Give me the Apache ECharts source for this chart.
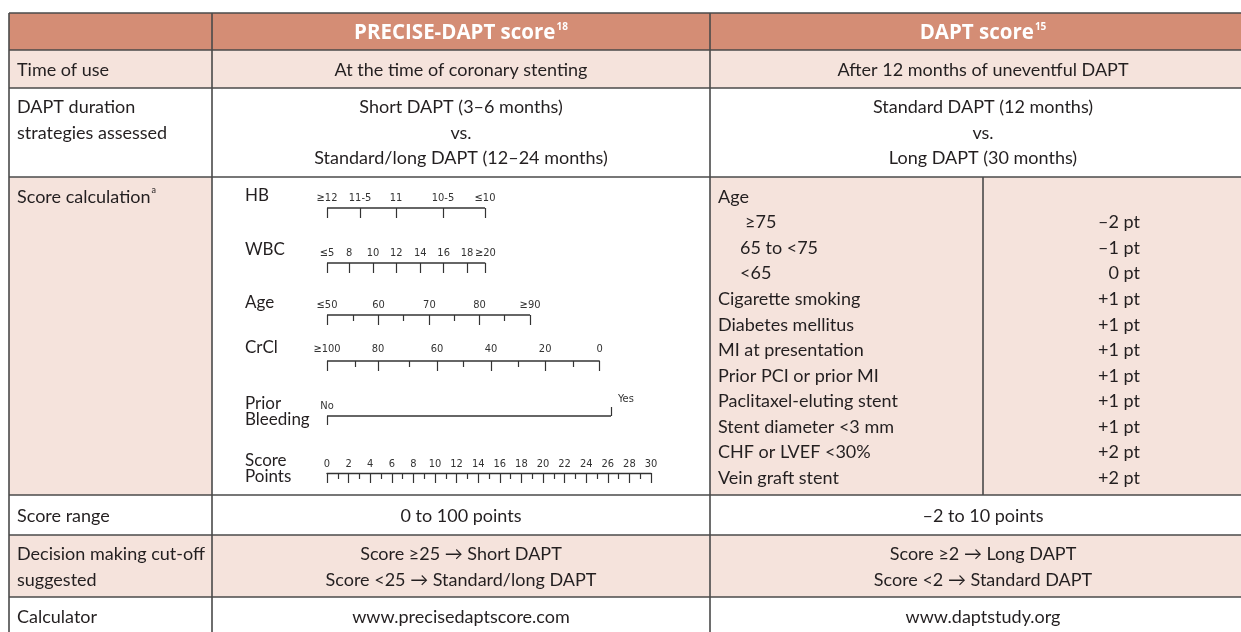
<!DOCTYPE html>
<html>
<head>
<meta charset="utf-8">
<script src="https://cdn.jsdelivr.net/npm/echarts@6/dist/echarts.min.js"></script>
<style>
html, body { margin: 0; background: #fff; }
#main { width: 1241px; height: 632px; }
</style>
</head>
<body>
<div id="main"></div>
<script>
let chart = echarts.init(document.getElementById('main'));

// 表头 / 行名
const headTitles = ['PRECISE-DAPT score', 'DAPT score'];
const headRefs = ['18', '15'];
const rowNames = ['Time of use', 'DAPT duration\nstrategies assessed', 'Score calculation', 'Score range', 'Decision making cut-off\nsuggested', 'Calculator'];
const preciseText = ['At the time of coronary stenting', 'Short DAPT (3–6 months)\nvs.\nStandard/long DAPT (12–24 months)', '', '0 to 100 points', 'Score ≥25 → Short DAPT\nScore <25 → Standard/long DAPT', 'www.precisedaptscore.com'];
const daptText = ['After 12 months of uneventful DAPT', 'Standard DAPT (12 months)\nvs.\nLong DAPT (30 months)', '', '–2 to 10 points', 'Score ≥2 → Long DAPT\nScore <2 → Standard DAPT', 'www.daptstudy.org'];

// DAPT score 计分项
const daptFactors = ['Age', '≥75', '65 to <75', '<65', 'Cigarette smoking', 'Diabetes mellitus', 'MI at presentation', 'Prior PCI or prior MI', 'Paclitaxel-eluting stent', 'Stent diameter <3 mm', 'CHF or LVEF <30%', 'Vein graft stent'];
const daptPoints = ['', '–2 pt', '–1 pt', '0 pt', '+1 pt', '+1 pt', '+1 pt', '+1 pt', '+1 pt', '+1 pt', '+2 pt', '+2 pt'];

// PRECISE-DAPT 列线图 (位置单位: score points)
const nomoNames = ['HB', 'WBC', 'Age', 'CrCl', 'Prior\nBleeding', 'Score\nPoints'];
const hbLabels = ['≥12', '11-5', '11', '10-5', '≤10'];
const hbPts = [0, 3.06, 6.39, 10.74, 14.63];
const wbcLabels = ['≤5', '8', '10', '12', '14', '16', '18', '≥20'];
const wbcPts = [0, 2.06, 4.26, 6.42, 8.64, 10.8, 12.96, 14.66];
const ageLabels = ['≤50', '60', '70', '80', '≥90'];
const agePts = [0, 4.78, 9.48, 14.13, 18.8];
const ageMinorPts = [2.46, 7.1, 11.8, 16.4];
const crclLabels = ['≥100', '80', '60', '40', '20', '0'];
const crclPts = [0, 4.72, 10.19, 15.19, 20.2, 25.25];
const crclMinorPts = [2.62, 7.65, 12.65, 17.75, 22.84];
const bleedLabels = ['No', 'Yes'];
const bleedPts = [0, 26.3];
const scoreMin = 0, scoreMax = 30, scoreStep = 2;

// 样式
const headBg = '#d48d75', pinkBg = '#f5e3dc', border = '#4a4a4a', ink = '#231f20';
const font = 'Lato, "Open Sans", sans-serif';
const headFont = '"Open Sans", Lato, sans-serif';
const smallFont = '"Liberation Sans Narrow", "DejaVu Sans Condensed", Lato, sans-serif';
const rowY = [13, 50, 88, 177, 495, 535, 597, 645];
const colX = [9, 212, 710, 983, 1260];
const textY = [70, 133, 196, 516, 567, 617];

let g = [];
function rect(x1, y1, x2, y2, fill) {
    g.push({type: 'rect', silent: true, z: -10, shape: {x: x1, y: y1, width: x2 - x1, height: y2 - y1}, style: {fill: fill}});
}
function line(x1, y1, x2, y2) {
    g.push({type: 'line', silent: true, shape: {x1: x1, y1: y1, x2: x2, y2: y2}, style: {stroke: border, lineWidth: 1.6}});
}
function text(str, x, y, align, opt) {
    g.push({type: 'text', silent: true, x: x, y: y, style: Object.assign({
        text: str, fill: ink, fontFamily: font, fontSize: 18, lineHeight: 25.5,
        align: align, textAlign: align, verticalAlign: 'middle', textVerticalAlign: 'middle'
    }, opt || {})});
}

// 底色
rect(colX[0], rowY[0], colX[4], rowY[1], headBg);
rect(colX[0], rowY[1], colX[4], rowY[2], pinkBg);
rect(colX[0], rowY[3], colX[1], rowY[4], pinkBg);
rect(colX[2], rowY[3], colX[4], rowY[4], pinkBg);
rect(colX[0], rowY[5], colX[4], rowY[6], pinkBg);

// 边框
for (let i = 0; i < 7; i++) line(colX[0], rowY[i], colX[4], rowY[i]);
[colX[0], colX[1], colX[2]].forEach(x => line(x, rowY[0], x, rowY[7]));
line(colX[3], rowY[3], colX[3], rowY[4]);

// 表头
let headCx = [461, 983];
headTitles.forEach((t, i) => {
    text(`{t|${t}}{s|${headRefs[i]}}`, headCx[i], 33, 'center', {
        rich: {
            t: {fontFamily: headFont, fontSize: 20.5, fontWeight: 'bold', fill: '#fff', lineHeight: 22, verticalAlign: 'bottom'},
            s: {fontFamily: headFont, fontSize: 10, fontWeight: 'bold', fill: '#fff', lineHeight: 22, verticalAlign: 'top', padding: [0, 0, 0, 1]}
        }
    });
});

// 行名
rowNames.forEach((t, i) => {
    let y = textY[i];
    if (i == 1) y = 120;
    if (i == 2) {
        text('{t|Score calculation}{s|a}', 17, y, 'left', {
            rich: {
                t: {fontFamily: font, fontSize: 18, fill: ink, lineHeight: 20, verticalAlign: 'bottom'},
                s: {fontFamily: font, fontSize: 9, fill: ink, lineHeight: 20, verticalAlign: 'top', padding: [0, 0, 0, 1]}
            }
        });
        return;
    }
    text(t, 17, y, 'left');
});

// 两列内容
preciseText.forEach((t, i) => { if (t) text(t, 461, textY[i], 'center'); });
daptText.forEach((t, i) => { if (t) text(t, 983, textY[i], 'center'); });

// DAPT 计分
const factorIndent = [0, 27, 22, 22, 0, 0, 0, 0, 0, 0, 0, 0];
daptFactors.forEach((t, i) => {
    let y = 197 + i * 25.55;
    text(t, 718 + factorIndent[i], y, 'left');
    if (daptPoints[i]) text(daptPoints[i], 1140, y, 'right');
});

// 列线图行名
const nomoNameY = [196, 250, 303, 348, 412, 469];
nomoNames.forEach((t, i) => text(t, 245, nomoNameY[i], 'left', {fontSize: 17, lineHeight: 16}));

// 列线图刻度尺
const scaleLeft = 327, scaleWidth = 324;
const lineY = [208, 263, 315, 361, 416, 473];
let grids = [], xAxes = [], yAxes = [], series = [];

function addScale(k, pts, labels, minor, opt) {
    let gi = grids.length;
    grids.push({left: scaleLeft, width: scaleWidth, top: lineY[k] - 10, height: 10});
    yAxes.push({gridIndex: gi, type: 'value', min: 0, max: 1, show: false});
    let axisBase = {
        gridIndex: gi, type: 'value', min: scoreMin, max: scoreMax, position: 'bottom',
        axisLine: {show: false}, splitLine: {show: false}
    };
    xAxes.push(Object.assign({}, axisBase, {
        axisTick: {show: true, customValues: pts, length: opt.len || 10, lineStyle: {color: '#333', width: 1.2}},
        axisLabel: {
            show: true, inside: true, customValues: pts, margin: opt.margin, hideOverlap: false,
            color: '#333', fontFamily: smallFont, fontSize: 11,
            formatter: v => labels[pts.indexOf(v)]
        }
    }));
    if (minor) {
        xAxes.push(Object.assign({}, axisBase, {
            axisTick: {show: true, customValues: minor, length: 6, lineStyle: {color: '#333', width: 1.2}},
            axisLabel: {show: false}
        }));
    }
    series.push({
        type: 'line', xAxisIndex: xAxes.length - 1, yAxisIndex: gi, symbol: 'none', clip: false, silent: true,
        lineStyle: {color: '#333', width: 1.3},
        data: [[pts[0], 0], [pts[pts.length - 1], 0]]
    });
    return gi;
}

addScale(0, hbPts, hbLabels, null, {margin: 4});
addScale(1, wbcPts, wbcLabels, null, {margin: 4});
addScale(2, agePts, ageLabels, ageMinorPts, {margin: 4});
addScale(3, crclPts, crclLabels, crclMinorPts, {margin: 6});

// Prior bleeding: No 刻度向下, Yes 刻度向上
let bi = addScale(4, [bleedPts[0]], [bleedLabels[0]], null, {margin: 4, len: 9});
series[series.length - 1].data = [[bleedPts[0], 0], [bleedPts[1], 0]];
xAxes.push({
    gridIndex: bi, type: 'value', min: scoreMin, max: scoreMax, position: 'bottom',
    axisLine: {show: false}, splitLine: {show: false},
    axisTick: {show: true, inside: true, customValues: [bleedPts[1]], length: 9, lineStyle: {color: '#333', width: 1.2}},
    axisLabel: {
        show: true, inside: true, customValues: [bleedPts[1]], margin: 11, align: 'left', padding: [0, 0, 0, 7],
        color: '#333', fontFamily: smallFont, fontSize: 11, formatter: () => bleedLabels[1]
    }
});

// Score points 主轴
let si = grids.length;
grids.push({left: scaleLeft, width: scaleWidth, top: lineY[5] - 10, height: 10});
yAxes.push({gridIndex: si, type: 'value', min: 0, max: 1, show: false});
xAxes.push({
    gridIndex: si, type: 'value', min: scoreMin, max: scoreMax, interval: scoreStep, position: 'bottom',
    axisLine: {show: true, lineStyle: {color: '#333', width: 1.3}},
    splitLine: {show: false},
    axisTick: {show: true, length: 10, lineStyle: {color: '#333', width: 1.2}},
    minorTick: {show: true, splitNumber: 2, length: 6, lineStyle: {color: '#333', width: 1.2}},
    axisLabel: {inside: true, margin: 3, color: '#333', fontFamily: smallFont, fontSize: 11, hideOverlap: false}
});

chart.setOption({
    animation: false,
    backgroundColor: '#fff',
    grid: grids,
    xAxis: xAxes,
    yAxis: yAxes,
    series: series,
    graphic: {elements: g}
});
</script>
</body>
</html>
